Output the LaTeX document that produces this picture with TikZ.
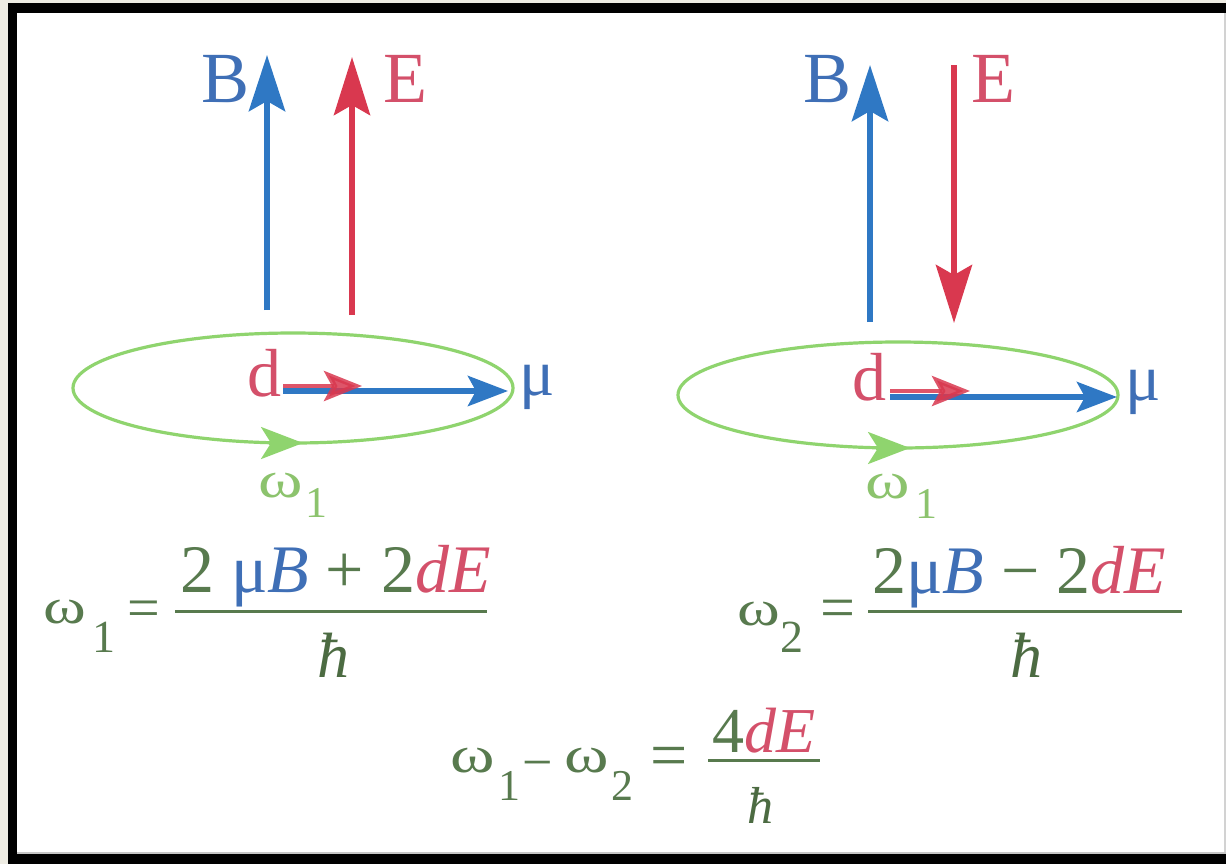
\documentclass[tikz,border=0pt]{standalone}
\usepackage{fontspec}
\setmainfont{Liberation Serif}
\newfontfamily\wfont{Liberation Serif}[FakeStretch=1.3]
\usetikzlibrary{arrows.meta,shapes.geometric}
\definecolor{beige}{HTML}{EEECE3}
\definecolor{barrowc}{HTML}{2F78C4}
\definecolor{btext}{HTML}{3F6FB6}
\definecolor{rarrowc}{HTML}{D9384F}
\definecolor{rtext}{HTML}{D4506A}
\definecolor{gorbit}{HTML}{8FD46E}
\definecolor{glabel}{HTML}{8CC36D}
\definecolor{fgreen}{HTML}{587A4E}
\definecolor{hgreen}{HTML}{4C6B42}
\begin{document}
\begin{tikzpicture}[x=0.5pt,y=-0.5pt,
  every node/.style={inner sep=0pt,outer sep=0pt},
  bvec/.style={barrowc,line width=3.4pt,-{Stealth[length=28pt,width=18pt,inset=5pt]}},
  evec/.style={rarrowc,line width=3pt,-{Stealth[length=29pt,width=18pt,inset=5pt]}},
  muvec/.style={barrowc,line width=3pt,-{Stealth[length=20pt,width=15pt,inset=4pt]}},
  dvec/.style={rarrowc,opacity=0.85,line width=2.4pt,-{Stealth[length=19pt,width=15pt,inset=4pt]}},
  orbit/.style={ellipse,draw=gorbit,line width=1.6pt,minimum width=220pt,minimum height=55pt},
  garrow/.style={gorbit,line width=1.6pt,-{Stealth[length=21pt,width=16pt,inset=5pt]}},
  blbl/.style={btext,font=\fontsize{36}{40}\selectfont},
  elbl/.style={rtext,font=\fontsize{36}{40}\selectfont},
  dlbl/.style={rtext,font=\fontsize{34}{38}\selectfont},
  mulbl/.style={btext,font=\fontsize{33}{38}\selectfont},
  wlbl/.style={glabel,font=\wfont\fontsize{26}{28}\selectfont},
  wsub/.style={glabel,font=\fontsize{22}{24}\selectfont},
  fw/.style={fgreen,font=\wfont\fontsize{#1}{#1}\selectfont},
  fsub/.style={fgreen,font=\fontsize{#1}{#1}\selectfont},
  feq/.style={fgreen,font=\fontsize{#1}{#1}\selectfont},
  fnum/.style={fgreen,font=\fontsize{#1}{#1}\selectfont},
  fhbar/.style={hgreen,font=\fontsize{#1}{#1}\selectfont\itshape},
  fbar/.style={fgreen,line width=1.5pt}]
\useasboundingbox (0,0) rectangle (1226,864);
% frame
\fill[beige] (0,0) rectangle (1226,864);
\fill[black] (8,3) rectangle (1226,864);
\fill[white] (17,13) rectangle (1226,853);
\fill[gray!35] (1224,13) rectangle (1226,853);
\fill[gray!45] (17,852) rectangle (1226,854);

% ---------- left panel ----------
\coordinate (b1s) at (267,310); \coordinate (b1t) at (267,55);
\coordinate (e1s) at (352,315); \coordinate (e1t) at (352,57);
\draw[bvec] (b1s) -- (b1t);
\draw[evec] (e1s) -- (e1t);
\node[blbl,anchor=base] (B1) at (226,102) {B};
\node[elbl,anchor=base] (E1) at (405,102) {E};
\node[orbit] (orb1) at (293,388) {};
\draw[garrow] ([xshift=-12pt]orb1.south) -- ([xshift=5pt]orb1.south);
\coordinate (m1s) at (283,391); \coordinate (m1t) at (508,391);
\coordinate (d1s) at (283,386); \coordinate (d1t) at (362,386);
\draw[muvec] (m1s) -- (m1t);
\draw[dvec] (d1s) -- (d1t);
\node[dlbl,anchor=base] (d1) at (264,396) {d};
\node[mulbl,anchor=base] (mu1) at (537,395) {μ};
\node[wlbl,anchor=base west] (w1) at (258,497) {ω};
\node[wsub,anchor=base west] (w1s) at (305,517) {1};

% ---------- right panel ----------
\coordinate (b2s) at (870,322); \coordinate (b2t) at (870,65);
\coordinate (e2s) at (954,65); \coordinate (e2t) at (954,323);
\draw[bvec] (b2s) -- (b2t);
\draw[evec] (e2s) -- (e2t);
\node[blbl,anchor=base] (B2) at (828,102) {B};
\node[elbl,anchor=base] (E2) at (993,102) {E};
\node[orbit,minimum height=53pt] (orb2) at (898,395) {};
\draw[garrow] ([xshift=-11pt]orb2.south) -- ([xshift=6pt]orb2.south);
\coordinate (m2s) at (890,397); \coordinate (m2t) at (1117,397);
\coordinate (d2s) at (890,391); \coordinate (d2t) at (970,391);
\draw[muvec] (m2s) -- (m2t);
\draw[dvec] (d2s) -- (d2t);
\node[dlbl,anchor=base] (d2) at (869,400) {d};
\node[mulbl,anchor=base] (mu2) at (1143,400) {μ};
\node[wlbl,anchor=base west] (w2) at (865,498) {ω};
\node[wsub,anchor=base west] (w2s) at (915,518) {1};

% ---------- formula omega1 ----------
\node[fw=25,anchor=base west] (f1w) at (43,623) {ω};
\node[fsub=23,anchor=base west] (f1s) at (92,652) {1};
\node[feq=29,anchor=base west] (f1e) at (127,627) {=};
\node[fnum=34,anchor=base west] (f1n) at (180,592)
  {2 {\color{btext}μ\textit{B}} + 2{\color{rtext}\textit{dE}}};
\coordinate (f1a) at (175,611); \coordinate (f1b) at (487,611);
\draw[fbar] (f1a) -- (f1b);
\node[fhbar=32,anchor=base west] (f1h) at (317,677) {ħ};

% ---------- formula omega2 ----------
\node[fw=25,anchor=base west] (f2w) at (737,625) {ω};
\node[fsub=23,anchor=base west] (f2s) at (780,652) {2};
\node[feq=31,anchor=base west] (f2e) at (820,628) {=};
\node[fnum=34,anchor=base west] (f2n) at (872,593)
  {2{\color{btext}μ\textit{B}} − 2{\color{rtext}\textit{dE}}};
\coordinate (f2a) at (868,611); \coordinate (f2b) at (1182,611);
\draw[fbar] (f2a) -- (f2b);
\node[fhbar=32,anchor=base west] (f2h) at (1010,677) {ħ};

% ---------- difference ----------
\node[fw=26,anchor=base west] (f3w1) at (450,772) {ω};
\node[fsub=22,anchor=base west] (f3s1) at (498,800) {1};
\node[feq=27,anchor=base west] (f3m) at (522,780) {−};
\node[fw=26,anchor=base west] (f3w2) at (564,772) {ω};
\node[fsub=22,anchor=base west] (f3s2) at (611,800) {2};
\node[feq=33,anchor=base west] (f3e) at (650,777) {=};
\node[fnum=32,anchor=base west] (f3n) at (712,752) {4{\color{rtext}\textit{dE}}};
\coordinate (f3a) at (708,760); \coordinate (f3b) at (820,760);
\draw[fbar] (f3a) -- (f3b);
\node[fhbar=26,anchor=base west] (f3h) at (747,823) {ħ};
\end{tikzpicture}
\end{document}
